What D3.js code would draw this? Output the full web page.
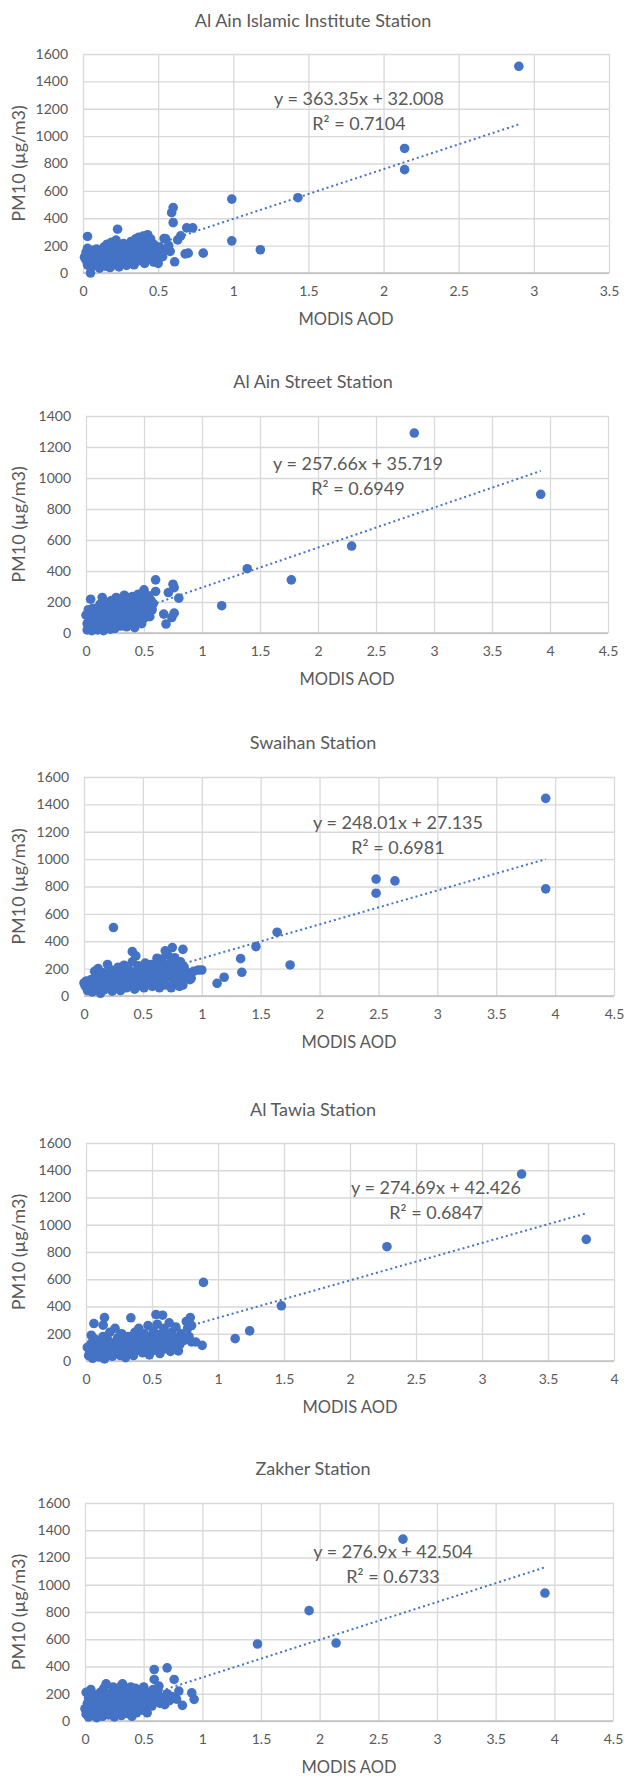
<!DOCTYPE html>
<html>
<head>
<meta charset="utf-8">
<script src="https://cdn.jsdelivr.net/npm/d3@7"></script>
<style>
body { margin: 0; background: #fff; }
text { font-family: Lato, "Open Sans", sans-serif; fill: #595959; }
</style>
</head>
<body>
<div id="cContainer"></div>
<script>
// chart values
var stationNames = ["Al Ain Islamic Institute Station", "Al Ain Street Station", "Swaihan Station", "Al Tawia Station", "Zakher Station"];
var slopes = [363.35, 257.66, 248.01, 274.69, 276.9];
var intercepts = [32.008, 35.719, 27.135, 42.426, 42.504];
var eqLabels = ["y = 363.35x + 32.008", "y = 257.66x + 35.719", "y = 248.01x + 27.135", "y = 274.69x + 42.426", "y = 276.9x + 42.504"];
var r2Labels = ["R\u00b2 = 0.7104", "R\u00b2 = 0.6949", "R\u00b2 = 0.6981", "R\u00b2 = 0.6847", "R\u00b2 = 0.6733"];
var xMaxes = [3.5, 4.5, 4.5, 4, 4.5];
var yMaxes = [1600, 1400, 1600, 1600, 1600];
var xTitle = "MODIS AOD";
var yTitle = "PM10 (\u00b5g/m3)";

var islamicPoints = [
	[2.90,1510],[2.14,910],[2.14,755],[1.43,550],[0.99,540],[0.99,235],[1.18,170],[0.80,145],[0.68,140],[0.70,145],
	[0.60,478],[0.59,441],[0.60,368],[0.61,82],[0.69,330],[0.73,330],[0.65,272],[0.63,242],[0.54,252],[0.58,158],
	[0.23,320],[0.03,267],[0.05,0],
	[0.01,115],[0.02,95],[0.02,150],[0.03,60],[0.03,180],[0.04,130],[0.05,80],[0.05,40],[0.06,165],[0.06,110],
	[0.07,55],[0.08,140],[0.08,90],[0.09,175],[0.10,60],[0.10,120],[0.11,35],[0.12,155],[0.12,95],[0.13,70],
	[0.14,190],[0.14,130],[0.15,50],[0.16,110],[0.16,210],[0.17,160],[0.18,80],[0.18,40],[0.19,225],[0.19,135],
	[0.20,100],[0.21,180],[0.21,60],[0.22,240],[0.22,145],[0.23,90],[0.24,200],[0.24,45],[0.25,120],[0.26,165],
	[0.26,75],[0.27,215],[0.28,100],[0.28,140],[0.29,55],[0.30,185],[0.30,120],[0.31,80],[0.32,230],[0.32,155],
	[0.33,100],[0.34,60],[0.34,200],[0.35,250],[0.35,135],[0.36,175],[0.37,90],[0.37,260],[0.38,150],[0.38,210],
	[0.39,115],[0.40,270],[0.40,185],[0.41,70],[0.42,140],[0.42,240],[0.43,280],[0.43,100],[0.44,200],[0.45,160],
	[0.45,250],[0.46,120],[0.47,80],[0.47,210],[0.48,175],[0.49,140],[0.50,70],[0.50,100],[0.51,190],[0.52,150],
	[0.53,120],[0.55,250],[0.56,170],[0.57,200]
];
var streetPoints = [
	[2.83,1290],[3.92,895],[2.29,561],[1.39,415],[1.77,343],[1.17,176],[0.60,343],[0.75,315],[0.76,293],[0.71,261],
	[0.60,268],[0.80,225],[0.67,122],[0.76,128],[0.74,100],[0.69,58],[0.04,218],[0.14,229],[0.26,229],[0.33,244],
	[0.50,278],
	[0.00,115],[0.01,60],[0.01,20],[0.02,150],[0.03,90],[0.03,40],[0.04,125],[0.05,15],[0.05,70],[0.06,160],
	[0.07,100],[0.07,35],[0.08,130],[0.09,60],[0.10,20],[0.10,150],[0.11,90],[0.12,185],[0.12,45],[0.13,115],
	[0.14,70],[0.15,15],[0.15,160],[0.16,100],[0.17,200],[0.17,40],[0.18,130],[0.19,75],[0.20,170],[0.21,25],
	[0.21,110],[0.22,210],[0.23,60],[0.23,150],[0.24,95],[0.25,190],[0.25,30],[0.26,130],[0.27,70],[0.28,220],
	[0.28,165],[0.29,105],[0.30,45],[0.31,140],[0.31,200],[0.32,80],[0.33,170],[0.34,115],[0.35,40],[0.35,230],
	[0.36,150],[0.37,90],[0.38,190],[0.38,60],[0.39,130],[0.40,235],[0.41,165],[0.41,100],[0.42,35],[0.43,200],
	[0.44,140],[0.45,75],[0.45,250],[0.46,180],[0.47,115],[0.48,220],[0.48,60],[0.49,155],[0.50,260],[0.50,95],
	[0.51,200],[0.52,130],[0.53,170],[0.54,240],[0.55,105],[0.56,210],[0.57,150],[0.58,190]
];
var swaihanPoints = [
	[3.92,1444],[3.92,783],[2.48,854],[2.48,751],[2.64,841],[1.64,466],[1.46,361],[1.33,273],[1.34,173],[1.75,227],
	[1.19,137],[1.13,93],[1.00,190],[0.25,500],[0.41,324],[0.44,293],[0.75,354],[0.84,341],[0.69,330],[0.62,276],
	[0.91,129],[0.84,80],
	[0.00,95],[0.01,75],[0.02,110],[0.03,40],[0.04,90],[0.05,60],[0.06,120],[0.07,30],[0.08,80],[0.09,180],
	[0.10,140],[0.10,50],[0.11,100],[0.12,200],[0.13,70],[0.14,20],[0.15,130],[0.16,170],[0.17,45],[0.18,95],
	[0.19,150],[0.20,230],[0.21,60],[0.22,120],[0.23,190],[0.24,35],[0.25,85],[0.26,150],[0.27,110],[0.28,60],
	[0.29,210],[0.30,170],[0.31,40],[0.32,130],[0.33,90],[0.34,225],[0.35,160],[0.36,60],[0.37,115],[0.38,190],
	[0.39,80],[0.40,145],[0.41,250],[0.42,100],[0.43,50],[0.44,180],[0.45,130],[0.46,220],[0.47,75],[0.48,160],
	[0.49,110],[0.50,200],[0.51,60],[0.52,240],[0.53,140],[0.54,90],[0.55,180],[0.56,120],[0.57,230],[0.58,70],
	[0.59,160],[0.60,200],[0.61,100],[0.62,250],[0.63,140],[0.64,60],[0.65,190],[0.66,270],[0.67,120],[0.68,220],
	[0.69,80],[0.70,170],[0.71,300],[0.72,140],[0.73,240],[0.74,60],[0.75,190],[0.76,110],[0.77,280],[0.78,160],
	[0.79,220],[0.80,130],[0.81,70],[0.82,250],[0.83,180],[0.85,210],[0.86,140],[0.88,170],[0.90,120],[0.93,180],
	[0.97,190]
];
var tawiaPoints = [
	[3.30,1372],[3.79,893],[2.28,839],[1.48,405],[0.89,577],[1.24,221],[1.13,164],[0.88,115],[0.79,319],[0.53,341],
	[0.58,336],[0.34,317],[0.14,319],[0.06,275],[0.13,263],[0.04,189],[0.80,140],[0.70,74],
	[0.01,100],[0.02,40],[0.03,70],[0.04,130],[0.05,20],[0.06,90],[0.07,160],[0.08,50],[0.09,110],[0.10,30],
	[0.11,140],[0.12,75],[0.13,180],[0.14,15],[0.15,100],[0.16,55],[0.17,150],[0.18,210],[0.19,90],[0.20,35],
	[0.21,130],[0.22,240],[0.23,70],[0.24,170],[0.25,110],[0.26,40],[0.27,200],[0.28,140],[0.29,80],[0.30,25],
	[0.31,120],[0.32,180],[0.33,60],[0.34,100],[0.35,150],[0.36,40],[0.37,210],[0.38,130],[0.39,80],[0.40,240],
	[0.41,170],[0.42,110],[0.43,60],[0.44,200],[0.45,140],[0.46,90],[0.47,260],[0.48,45],[0.49,180],[0.50,120],
	[0.51,220],[0.52,80],[0.53,160],[0.54,270],[0.55,110],[0.56,55],[0.57,200],[0.58,140],[0.59,240],[0.60,90],
	[0.61,180],[0.62,130],[0.63,280],[0.64,70],[0.65,210],[0.66,150],[0.67,100],[0.68,250],[0.70,170],[0.71,120],
	[0.72,200],[0.74,150],[0.76,290],[0.77,240],[0.78,180],[0.80,260],[0.83,140]
];
var zakherPoints = [
	[2.71,1335],[1.91,810],[2.14,572],[1.47,565],[3.92,939],[0.59,378],[0.70,390],[0.76,305],[0.91,207],[0.93,159],
	[0.83,115],[0.80,220],[0.18,273],[0.32,273],[0.59,305],[0.63,256],[0.03,207],
	[0.00,90],[0.01,50],[0.01,210],[0.02,130],[0.03,30],[0.03,170],[0.04,70],[0.05,110],[0.05,230],[0.06,40],
	[0.07,150],[0.08,90],[0.09,190],[0.10,25],[0.10,120],[0.11,60],[0.12,160],[0.13,210],[0.14,95],[0.15,35],
	[0.15,140],[0.16,240],[0.17,70],[0.18,180],[0.19,115],[0.20,45],[0.21,200],[0.22,150],[0.23,85],[0.24,250],
	[0.25,30],[0.25,125],[0.26,175],[0.27,60],[0.28,220],[0.29,100],[0.30,150],[0.31,40],[0.31,260],[0.32,190],
	[0.33,80],[0.34,130],[0.35,230],[0.36,55],[0.37,170],[0.38,110],[0.39,250],[0.40,35],[0.40,200],[0.41,140],
	[0.42,90],[0.43,240],[0.44,60],[0.45,175],[0.46,120],[0.47,210],[0.48,80],[0.49,150],[0.50,250],[0.51,190],
	[0.52,100],[0.53,60],[0.54,210],[0.55,140],[0.56,180],[0.57,110],[0.58,230],[0.60,160],[0.62,200],[0.64,130],
	[0.66,170],[0.68,120],[0.70,200],[0.72,150],[0.74,180],[0.78,160]
];
var allPoints = [islamicPoints, streetPoints, swaihanPoints, tawiaPoints, zakherPoints];

// layout of each panel (pixels)
var frames = [
	{left: 83, right: 609, top: 54, bottom: 273, titleY: 21, eqX: 359, eqY: 99},
	{left: 86, right: 608, top: 416, bottom: 633, titleY: 382, eqX: 358, eqY: 464},
	{left: 84, right: 614, top: 777, bottom: 996, titleY: 743, eqX: 398, eqY: 823},
	{left: 86, right: 614, top: 1143, bottom: 1361, titleY: 1110, eqX: 436, eqY: 1188},
	{left: 85, right: 613, top: 1503, bottom: 1721, titleY: 1469, eqX: 393, eqY: 1552}
];

var blue = "#4472C4";
var gridColor = "#d9d9d9";

var svg = d3.select("#cContainer").append("svg")
	.attr("width", 624)
	.attr("height", 1778);

for (var i = 0; i < frames.length; i++) {
	drawPanel(i);
}

function drawPanel(i) {
	var f = frames[i];
	var pts = allPoints[i];
	var w = f.right - f.left, h = f.bottom - f.top;

	var x = d3.scaleLinear().domain([0, xMaxes[i]]).range([f.left, f.right]);
	var y = d3.scaleLinear().domain([0, yMaxes[i]]).range([f.bottom, f.top]);

	var g = svg.append("g");

	// title
	g.append("text")
		.attr("x", 313).attr("y", f.titleY)
		.attr("dy", "0.35em")
		.attr("text-anchor", "middle")
		.style("font-size", "18px")
		.text(stationNames[i]);

	// vertical grid + x tick labels
	var xAxis = g.append("g")
		.attr("transform", "translate(0," + f.bottom + ")")
		.call(d3.axisBottom(x)
			.tickValues(d3.range(0, xMaxes[i] + 0.001, 0.5))
			.tickSize(-h)
			.tickPadding(13)
			.tickFormat(function(d) { return String(+d.toFixed(1)); }));
	xAxis.select(".domain").remove();
	xAxis.selectAll("line").attr("stroke", gridColor).attr("stroke-width", 1.3);
	xAxis.selectAll("text").style("font-size", "14px").style("font-family", "Lato, sans-serif").attr("fill", "#595959");

	// horizontal grid + y tick labels
	var yAxis = g.append("g")
		.attr("transform", "translate(" + f.left + ",0)")
		.call(d3.axisLeft(y)
			.tickValues(d3.range(0, yMaxes[i] + 1, 200))
			.tickSize(-w)
			.tickPadding(15)
			.tickFormat(d3.format("d")));
	yAxis.select(".domain").remove();
	yAxis.selectAll("line").attr("stroke", gridColor).attr("stroke-width", 1.3);
	yAxis.selectAll("text").style("font-size", "14px").style("font-family", "Lato, sans-serif").attr("fill", "#595959");

	// bottom axis line a bit darker
	g.append("line")
		.attr("x1", f.left).attr("x2", f.right)
		.attr("y1", y(0)).attr("y2", y(0))
		.attr("stroke", "#bfbfbf").attr("stroke-width", 1.3);

	// axis titles
	g.append("text")
		.attr("x", (f.left + f.right) / 2).attr("y", f.bottom + 46)
		.attr("dy", "0.35em")
		.attr("text-anchor", "middle")
		.style("font-size", "16.5px")
		.text(xTitle);
	g.append("text")
		.attr("transform", "translate(19," + ((f.top + f.bottom) / 2) + ") rotate(-90)")
		.attr("dy", "0.35em")
		.attr("text-anchor", "middle")
		.style("font-size", "18px")
		.text(yTitle);

	// points
	g.append("g").selectAll("circle")
		.data(pts)
		.enter()
		.append("circle")
		.attr("cx", function(d) { return x(d[0]); })
		.attr("cy", function(d) { return y(d[1]); })
		.attr("r", 4.8)
		.attr("fill", blue);

	// linear trendline over the data range
	var xs = d3.extent(pts, function(d) { return d[0]; });
	g.append("line")
		.attr("x1", x(xs[0])).attr("y1", y(slopes[i] * xs[0] + intercepts[i]))
		.attr("x2", x(xs[1])).attr("y2", y(slopes[i] * xs[1] + intercepts[i]))
		.attr("stroke", blue)
		.attr("stroke-width", 2)
		.attr("stroke-dasharray", "2,3");

	// equation label
	g.append("text")
		.attr("x", f.eqX).attr("y", f.eqY)
		.attr("dy", "0.35em")
		.attr("text-anchor", "middle")
		.style("font-size", "18px")
		.text(eqLabels[i]);
	g.append("text")
		.attr("x", f.eqX).attr("y", f.eqY + 25)
		.attr("dy", "0.35em")
		.attr("text-anchor", "middle")
		.style("font-size", "18px")
		.text(r2Labels[i]);
}
</script>
</body>
</html>
